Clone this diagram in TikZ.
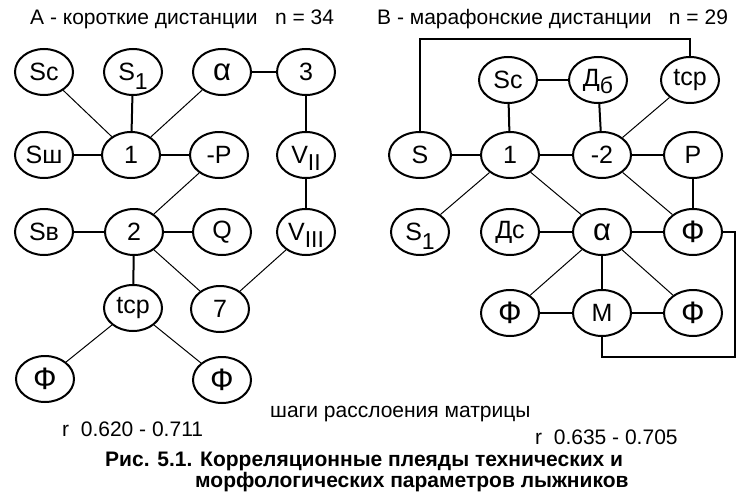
\documentclass[tikz,border=0pt]{standalone}
\usepackage{fontspec}
\setmainfont{Liberation Sans}
\usetikzlibrary{shapes.geometric}
\tikzset{
  nd/.style={ellipse, draw, line width=2pt, minimum width=58pt, minimum height=46pt, inner sep=0pt, font=\fontsize{25}{27}\selectfont},
  big/.style={font=\fontsize{31}{32}\selectfont},
  thk/.style={line width=2pt},
  thn/.style={line width=1pt},
  lbl/.style={anchor=west, inner sep=0pt, font=\fontsize{21}{24}\selectfont},
  captxt/.style={anchor=west, inner sep=0pt, font=\bfseries\fontsize{21}{24}\selectfont},
}
\newcommand{\sbs}[2][-7pt]{\raisebox{#1}[0pt][0pt]{\fontsize{23}{24}\selectfont #2}}
\begin{document}
\begin{tikzpicture}[x=1pt,y=-1pt]
\useasboundingbox (0,0) rectangle (751,503);
% Left panel
\node[nd] (aSc) at (44,72) {Sc};
\node[nd] (aS1) at (133,72) {S\sbs[-9pt]{1}};
\node[nd, big] (aal) at (222,72) {α};
\node[nd] (a3) at (306,72) {3};
\node[nd] (aSh) at (44,155) {Sш};
\node[nd] (a1) at (131,155) {1};
\node[nd] (aP) at (219,155) {-P};
\node[nd] (aV2) at (306,155) {V\sbs{II}};
\node[nd] (aSv) at (44,232) {Sв};
\node[nd] (a2) at (134,232) {2};
\node[nd] (aQ) at (222,232) {Q};
\node[nd] (aV3) at (306,232) {V\sbs{III}};
\node[nd] (atcp) at (133,308) {tcp};
\node[nd] (a7) at (220,309) {7};
\node[nd, big] (aF1) at (45,379) {Ф};
\node[nd, big] (aF2) at (222,380) {Ф};
\draw[thn] (aSc) -- (a1);
\draw[thk] (aS1) -- (a1);
\draw[thn] (aal) -- (a1);
\draw[thk] (aal) -- (a3);
\draw[thk] (aSh) -- (a1);
\draw[thk] (a1) -- (aP);
\draw[thk] (a3) -- (aV2);
\draw[thk] (aV2) -- (aV3);
\draw[thn] (aP) -- (a2);
\draw[thk] (aSv) -- (a2);
\draw[thk] (a2) -- (aQ);
\draw[thk] (a2) -- (atcp);
\draw[thn] (a2) -- (a7);
\draw[thn] (aV3) -- (a7);
\draw[thn] (atcp) -- (aF1);
\draw[thn] (atcp) -- (aF2);
% Right panel
\node[nd, minimum width=62pt] (bS) at (420,155) {S};
\node[nd] (bSc) at (508,80) {Sc};
\node[nd] (bDb) at (598,80) {Д\sbs{б}};
\node[nd] (btcp) at (690,80) {tcp};
\node[nd] (b1) at (510,155) {1};
\node[nd] (b2) at (602,155) {-2};
\node[nd] (bP) at (693,155) {P};
\node[nd] (bS1) at (420,232) {S\sbs[-9pt]{1}};
\node[nd] (bDc) at (510,232) {Дс};
\node[nd, big] (bal) at (602,232) {α};
\node[nd, big] (bF) at (693,232) {Ф};
\node[nd, big] (bF1) at (510,313) {Ф};
\node[nd] (bM) at (602,313) {М};
\node[nd, big] (bF2) at (693,313) {Ф};
\coordinate (ftop) at (555,39);
\coordinate (floop) at (735,357);
\draw[thk] (bS.north) |- (ftop) -| (btcp.north);
\draw[thk] (bF.east) -| (floop) -| (bM.south);
\draw[thk] (bS) -- (b1);
\draw[thk] (bSc) -- (b1);
\draw[thk] (bSc) -- (bDb);
\draw[thk] (bDb) -- (b2);
\draw[thn] (btcp) -- (b2);
\draw[thk] (b1) -- (b2);
\draw[thk] (b2) -- (bP);
\draw[thk] (bP) -- (bF);
\draw[thn] (b1) -- (bS1);
\draw[thn] (b1) -- (bal);
\draw[thn] (b2) -- (bF);
\draw[thk] (bDc) -- (bal);
\draw[thk] (bal) -- (bF);
\draw[thn] (bal) -- (bF1);
\draw[thk] (bal) -- (bM);
\draw[thn] (bal) -- (bF2);
\draw[thk] (bF1) -- (bM);
\draw[thk] (bM) -- (bF2);
% Texts
\node[lbl] (tA) at (30,19) {А - короткие дистанции\ \ \ n = 34};
\node[lbl] (tB) at (377,19) {В - марафонские дистанции\ \ \ n = 29};
\node[lbl] (tsh) at (270,414) {шаги расслоения матрицы};
\node[lbl] (tr1) at (62,429) {r\ \ 0.620 - 0.711};
\node[lbl] (tr2) at (535,437) {r\ \ 0.635 - 0.705};
\node[captxt] (c1) at (105,461) {Рис. 5.1. Корреляционные плеяды технических и};
\node[captxt] (c2) at (195,482) {морфологических параметров лыжников};
\end{tikzpicture}
\end{document}
